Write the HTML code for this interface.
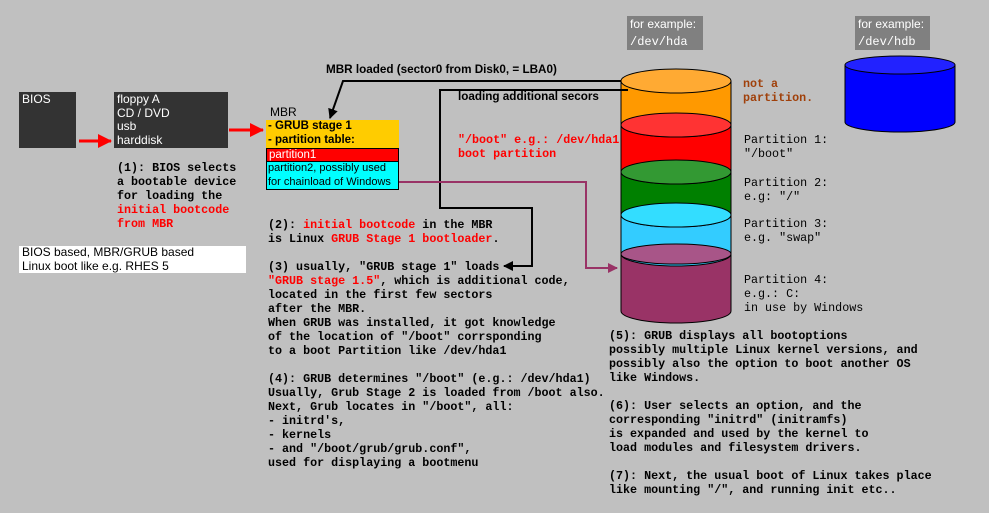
<!DOCTYPE html>
<html><head><meta charset="utf-8"><style>
body{margin:0;width:989px;height:513px;background:#c0c0c0;position:relative;overflow:hidden;font-family:"Liberation Sans",sans-serif}
.a{position:absolute;white-space:pre}
.m{font-family:"Liberation Mono",monospace;font-size:11.7px;line-height:14px;font-weight:bold;color:#000}
.n{font-family:"Liberation Mono",monospace;font-size:11.7px;line-height:14px;color:#000}
.r{color:#f00}
.s{font-size:12px;line-height:13.5px}
</style></head><body>
<svg class="a" style="left:0;top:0" width="989" height="513">
<defs>
<marker id="ar" markerWidth="14" markerHeight="14" refX="13" refY="7" orient="auto" markerUnits="userSpaceOnUse"><path d="M0,0L14,7L0,14z" fill="#f00"/></marker>
<marker id="ab" markerWidth="10" markerHeight="10" refX="9" refY="5" orient="auto" markerUnits="userSpaceOnUse"><path d="M0,0L10,5L0,10z" fill="#000"/></marker>
<marker id="ap" markerWidth="10" markerHeight="10" refX="9" refY="5" orient="auto" markerUnits="userSpaceOnUse"><path d="M0,0L10,5L0,10z" fill="#993366"/></marker>
</defs>
<g stroke="#000" stroke-width="1">
<path d="M621,81 V311 A55,12 0 0 0 731,311 V81z" fill="#993366"/>
<path d="M621,81 V254 A55,12 0 0 0 731,254 V81z" fill="#33ccff"/>
<path d="M621,81 V215 A55,12 0 0 0 731,215 V81z" fill="#008000"/>
<path d="M621,81 V172 A55,12 0 0 0 731,172 V81z" fill="#ff0000"/>
<path d="M621,81 V125 A55,12 0 0 0 731,125 V81z" fill="#ff9900"/>
<ellipse cx="676" cy="81" rx="55" ry="12" fill="#ffaa33"/>
<ellipse cx="676" cy="125" rx="55" ry="12" fill="#ff3333"/>
<ellipse cx="676" cy="172" rx="55" ry="12" fill="#339933"/>
<ellipse cx="676" cy="215" rx="55" ry="12" fill="#33ddff"/>
<ellipse cx="676" cy="254" rx="55" ry="10" fill="#a85588"/>
<path d="M845,65 V122 A55,10 0 0 0 955,122 V65z" fill="#0000ff"/>
<ellipse cx="900" cy="65" rx="55" ry="9" fill="#2222ff"/>
</g>
<line x1="79" y1="141" x2="111" y2="141" stroke="#f00" stroke-width="3" marker-end="url(#ar)"/>
<line x1="229" y1="130" x2="263" y2="130" stroke="#f00" stroke-width="3" marker-end="url(#ar)"/>
<polyline points="621,81 343,81 330,118" fill="none" stroke="#000" stroke-width="2" marker-end="url(#ab)"/>
<polyline points="628,90 440,90 440,208 532,208 532,266 504,266" fill="none" stroke="#000" stroke-width="2" marker-end="url(#ab)"/>
<polyline points="399,182 586,182 586,268 617,268" fill="none" stroke="#993366" stroke-width="2" marker-end="url(#ap)"/>
</svg>
<div class="a" style="left:19px;top:92px;width:57px;height:56px;background:#333"></div>
<div class="a s" style="left:22px;top:93px;color:#fff">BIOS</div>
<div class="a s" style="left:114px;top:92px;width:114px;height:56px;background:#333;color:#fff;padding:1px 3px;box-sizing:border-box">floppy A
CD / DVD
usb
harddisk</div>
<div class="a s" style="left:270px;top:106px">MBR</div>
<div class="a s" style="left:266px;top:120px;width:133px;height:28px;background:#ffcc00;font-weight:bold;padding:0 2px;box-sizing:border-box;font-size:11.5px">- GRUB stage 1
- partition table:</div>
<div class="a s" style="left:266px;top:148px;width:133px;height:14px;background:#f00;color:#fff;border:1px solid #000;box-sizing:border-box;padding-left:2px;line-height:12px;font-size:11.5px">partition1</div>
<div class="a s" style="left:266px;top:161px;width:133px;height:29px;background:#00ffff;border:1px solid #000;box-sizing:border-box;padding-left:1px;font-size:11px">partition2, possibly used
for chainload of Windows</div>
<div class="a s" style="left:19px;top:246px;width:227px;height:27px;background:#fff;padding-left:3px;box-sizing:border-box">BIOS based, MBR/GRUB based
Linux boot like e.g. RHES 5</div>
<div class="a" style="left:627px;top:16px;width:76px;height:34px;background:#808080;color:#fff;font-size:12px;line-height:17px;padding-left:3px;box-sizing:border-box">for example:<br><span style="font-family:'Liberation Mono',monospace">/dev/hda</span></div>
<div class="a" style="left:855px;top:16px;width:75px;height:34px;background:#808080;color:#fff;font-size:12px;line-height:17px;padding-left:3px;box-sizing:border-box">for example:<br><span style="font-family:'Liberation Mono',monospace">/dev/hdb</span></div>
<div class="a" style="left:326px;top:63px;font-size:11.7px;font-weight:bold">MBR loaded (sector0 from Disk0, = LBA0)</div>
<div class="a" style="left:458px;top:90px;font-size:11.7px;font-weight:bold">loading additional secors</div>
<div class="a m" style="left:117px;top:161px">(1): BIOS selects
a bootable device
for loading the
<span class="r">initial bootcode
from MBR</span></div>
<div class="a m r" style="left:458px;top:133px">"/boot" e.g.: /dev/hda1
boot partition</div>
<div class="a m" style="left:743px;top:77px;color:#a0400a">not a
partition.</div>
<div class="a n" style="left:744px;top:133px">Partition 1:
"/boot"</div>
<div class="a n" style="left:744px;top:176px">Partition 2:
e.g: "/"</div>
<div class="a n" style="left:744px;top:217px">Partition 3:
e.g. "swap"</div>
<div class="a n" style="left:744px;top:273px">Partition 4:
e.g.: C:
in use by Windows</div>
<div class="a m" style="left:268px;top:218px">(2): <span class="r">initial bootcode</span> in the MBR
is Linux <span class="r">GRUB Stage 1 bootloader</span>.

(3) usually, "GRUB stage 1" loads
<span class="r">"GRUB stage 1.5"</span>, which is additional code,
located in the first few sectors
after the MBR.
When GRUB was installed, it got knowledge
of the location of "/boot" corrsponding
to a boot Partition like /dev/hda1

(4): GRUB determines "/boot" (e.g.: /dev/hda1)
Usually, Grub Stage 2 is loaded from /boot also.
Next, Grub locates in "/boot", all:
- initrd's,
- kernels
- and "/boot/grub/grub.conf",
used for displaying a bootmenu</div>
<div class="a m" style="left:609px;top:329px">(5): GRUB displays all bootoptions
possibly multiple Linux kernel versions, and
possibly also the option to boot another OS
like Windows.

(6): User selects an option, and the
corresponding "initrd" (initramfs)
is expanded and used by the kernel to
load modules and filesystem drivers.

(7): Next, the usual boot of Linux takes place
like mounting "/", and running init etc..</div>
</body></html>
